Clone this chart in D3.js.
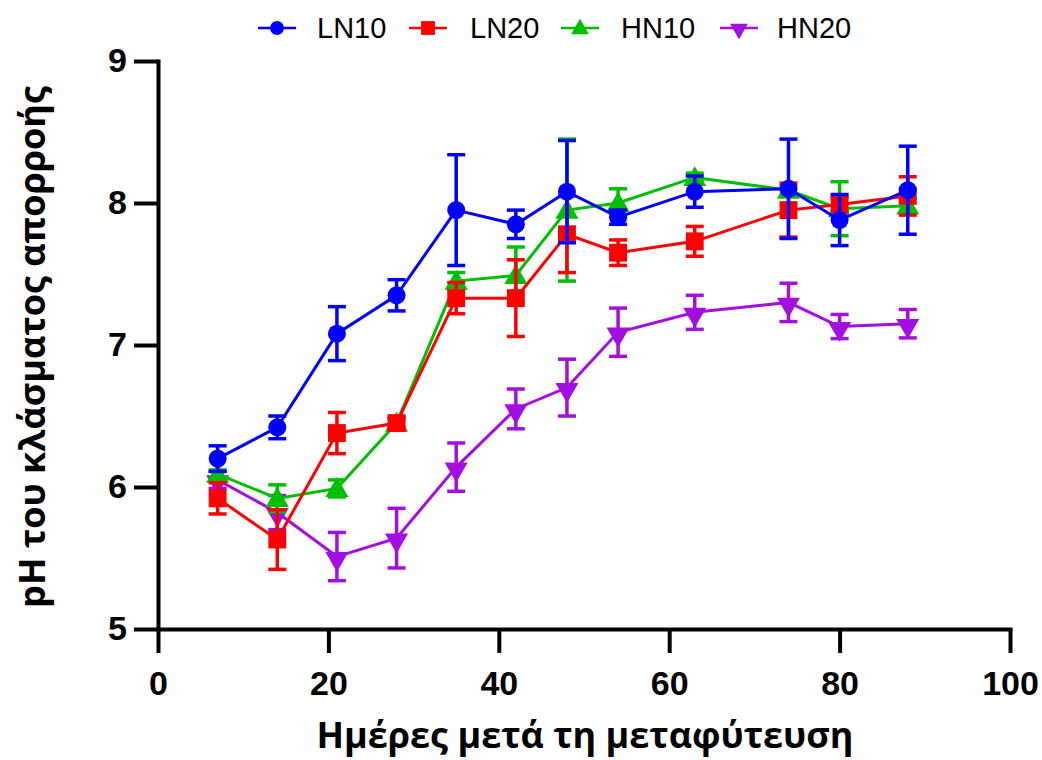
<!DOCTYPE html>
<html>
<head>
<meta charset="utf-8">
<script src="https://cdn.jsdelivr.net/npm/d3@7"></script>
<style>
  html, body { margin: 0; padding: 0; background: #fff; }
  svg { display: block; }
</style>
</head>
<body>
<svg id="chart" width="1042" height="760"></svg>
<script>
// Days after transplanting
const days = [7, 14, 21, 28, 35, 42, 48, 54, 63, 74, 80, 88];

// Mean pH of the drainage fraction and its error per treatment
const LN10 = [6.20, 6.42, 7.08, 7.35, 7.95, 7.85, 8.08, 7.90, 8.08, 8.10, 7.88, 8.09];
const LN10_err = [0.09, 0.08, 0.19, 0.11, 0.39, 0.10, 0.36, 0.05, 0.11, 0.35, 0.18, 0.31];
const LN20 = [5.92, 5.63, 6.38, 6.45, 7.33, 7.33, 7.78, 7.65, 7.73, 7.95, 7.99, 8.05];
const LN20_err = [0.11, 0.21, 0.145, 0.04, 0.11, 0.27, 0.27, 0.09, 0.105, 0.19, 0.05, 0.135];
const HN10 = [6.09, 5.92, 5.99, 6.45, 7.45, 7.49, 7.95, 8.00, 8.18, 8.09, 7.96, 7.98];
const HN10_err = [0.03, 0.095, 0.06, 0.03, 0.06, 0.20, 0.50, 0.10, 0.03, 0.03, 0.19, 0.05];
const HN20 = [6.05, 5.82, 5.51, 5.64, 6.14, 6.55, 6.70, 7.09, 7.23, 7.30, 7.13, 7.15];
const HN20_err = [0.06, 0.12, 0.17, 0.21, 0.17, 0.14, 0.20, 0.17, 0.12, 0.135, 0.085, 0.10];

const xTicks = [0, 20, 40, 60, 80, 100];
const yTicks = [5, 6, 7, 8, 9];

const seriesNames = ["LN10", "LN20", "HN10", "HN20"];
const seriesMeans = [LN10, LN20, HN10, HN20];
const seriesErrs = [LN10_err, LN20_err, HN10_err, HN20_err];
const seriesColors = ["#0000ff", "#ff0000", "#00bf00", "#a30fe0"];
const seriesSymbols = [d3.symbolCircle, d3.symbolSquare, d3.symbolTriangle, d3.symbolTriangle];

const svg = d3.select("#chart");

const x = d3.scaleLinear().domain([0, 100]).range([158, 1010]);
const y = d3.scaleLinear().domain([5, 9]).range([629, 61]);

const tickFont = "'Liberation Sans', Arial, sans-serif";
const titleFont = "'Open Sans', 'Noto Sans', sans-serif";

// Axes
const xAxis = svg.append("g")
  .attr("transform", `translate(0,${y(5)})`)
  .call(d3.axisBottom(x).tickValues(xTicks).tickFormat(d3.format("d"))
    .tickSize(24).tickSizeOuter(0).tickPadding(18));
const yAxis = svg.append("g")
  .attr("transform", `translate(${x(0)},0)`)
  .call(d3.axisLeft(y).tickValues(yTicks).tickFormat(d3.format("d"))
    .tickSize(24).tickSizeOuter(0).tickPadding(7));

[xAxis, yAxis].forEach(g => {
  g.select(".domain").attr("stroke", "#000").attr("stroke-width", 4).attr("stroke-linecap", "square");
  g.selectAll(".tick line").attr("stroke", "#000").attr("stroke-width", 4);
  g.selectAll(".tick text")
    .attr("fill", "#000")
    .style("font-family", tickFont)
    .style("font-weight", "bold")
    .style("font-size", "34px");
});

// Axis titles
svg.append("text")
  .attr("x", x(50) + 1)
  .attr("y", 748)
  .attr("text-anchor", "middle")
  .style("font-family", titleFont)
  .style("font-weight", "bold")
  .style("font-size", "36px")
  .text("Ημέρες μετά τη μεταφύτευση");

svg.append("text")
  .attr("transform", `translate(45,${(y(5) + y(9)) / 2 + 2}) rotate(-90)`)
  .attr("text-anchor", "middle")
  .style("font-family", titleFont)
  .style("font-weight", "bold")
  .style("font-size", "36px")
  .text("pH του κλάσματος απορροής");

// Marker shapes
function markerPath(i, size) {
  return d3.symbol().type(seriesSymbols[i]).size(size)();
}
function markerTransform(i, px, py) {
  if (i === 3) return `translate(${px},${py + 2}) rotate(180)`;
  if (i === 2) return `translate(${px},${py + 2})`;
  return `translate(${px},${py})`;
}
const markerSizes = [255, 320, 230, 230];

const line = d3.line().x(d => x(d[0])).y(d => y(d[1]));

// Draw series back to front so LN10 ends up on top
for (let i = seriesNames.length - 1; i >= 0; i--) {
  const means = seriesMeans[i];
  const errs = seriesErrs[i];
  const color = seriesColors[i];
  const pts = days.map((d, k) => [d, means[k], errs[k]]);
  const g = svg.append("g").attr("class", "series-" + seriesNames[i]);

  // error bars
  const eb = g.selectAll("g.err").data(pts).enter().append("g").attr("class", "err")
    .attr("stroke", color).attr("stroke-width", 3.5);
  eb.append("line")
    .attr("x1", d => x(d[0])).attr("x2", d => x(d[0]))
    .attr("y1", d => y(d[1] + d[2])).attr("y2", d => y(d[1] - d[2]));
  eb.append("line")
    .attr("x1", d => x(d[0]) - 9).attr("x2", d => x(d[0]) + 9)
    .attr("y1", d => y(d[1] + d[2])).attr("y2", d => y(d[1] + d[2]));
  eb.append("line")
    .attr("x1", d => x(d[0]) - 9).attr("x2", d => x(d[0]) + 9)
    .attr("y1", d => y(d[1] - d[2])).attr("y2", d => y(d[1] - d[2]));

  // connecting line
  g.append("path")
    .datum(pts)
    .attr("fill", "none")
    .attr("stroke", color)
    .attr("stroke-width", 3)
    .attr("d", line);

  // markers
  g.selectAll("path.mk").data(pts).enter().append("path").attr("class", "mk")
    .attr("d", markerPath(i, markerSizes[i]))
    .attr("transform", d => markerTransform(i, x(d[0]), y(d[1])))
    .attr("fill", color);
}

// Legend
const legendItems = [
  { sx: 258, tx: 317 },
  { sx: 409, tx: 470 },
  { sx: 561, tx: 621 },
  { sx: 720, tx: 777 }
];
const legendY = 28;
const leg = svg.append("g").attr("class", "legend");
seriesNames.forEach((name, i) => {
  const it = legendItems[i];
  leg.append("line")
    .attr("x1", it.sx).attr("x2", it.sx + 38)
    .attr("y1", legendY).attr("y2", legendY)
    .attr("stroke", seriesColors[i]).attr("stroke-width", 2.5);
  leg.append("path")
    .attr("d", markerPath(i, markerSizes[i] * 0.6))
    .attr("transform", markerTransform(i, it.sx + 19, legendY - (i >= 2 ? 1 : 0)))
    .attr("fill", seriesColors[i]);
  leg.append("text")
    .attr("x", it.tx)
    .attr("y", legendY + 10)
    .style("font-family", tickFont)
    .style("font-size", "29px")
    .attr("fill", "#000")
    .text(name);
});
</script>
</body>
</html>
